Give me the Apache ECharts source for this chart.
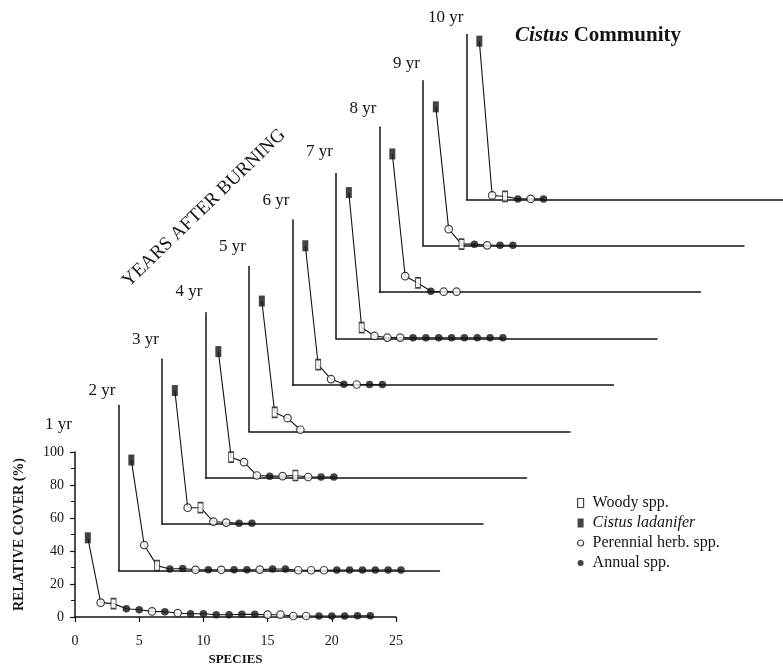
<!DOCTYPE html>
<html>
<head>
<meta charset="utf-8">
<script src="https://cdn.jsdelivr.net/npm/echarts@6/dist/echarts.min.js"></script>
<style>html,body{margin:0;padding:0;background:#fff}#chart{width:783px;height:670px}</style>
</head>
<body>
<div id="chart"></div>
<script>
// ---------- DATA ----------
// Panel labels (years after burning)
const yearLabels = ['1 yr','2 yr','3 yr','4 yr','5 yr','6 yr','7 yr','8 yr','9 yr','10 yr'];
// Type codes: C = Cistus ladanifer, W = Woody spp., P = Perennial herb. spp., A = Annual spp.
// Relative cover (%) of species in rank order (rank 1, 2, 3, ...)
const cover1yr  = [48, 8.7, 8.1, 5, 4.4, 3.4, 3.2, 2.4, 2, 2, 1.4, 1.4, 1.6, 1.6, 1.4, 1.4, 0.6, 0.6, 0.6, 0.6, 0.6, 0.8, 0.8];
const type1yr   = ['C','P','W','A','A','P','A','P','A','A','A','A','A','A','P','P','P','P','A','A','A','A','A'];
const cover2yr  = [67, 15.5, 3, 1, 1.3, 0.5, 0.5, 0.5, 0.5, 0.5, 0.6, 1, 1, 0.2, 0.2, 0.2, 0.4, 0.4, 0.4, 0.4, 0.4, 0.4];
const type2yr   = ['C','P','W','A','A','P','A','P','A','A','P','A','A','P','P','P','A','A','A','A','A','A'];
const cover3yr  = [81, 10, 10, 1.6, 1, 0.6, 0.6];
const type3yr   = ['C','P','W','P','P','A','A'];
const cover4yr  = [76.5, 12.5, 9.5, 1.4, 1, 1, 1.4, 0.5, 0.5, 0.5];
const type4yr   = ['C','W','P','P','A','P','W','P','A','A'];
const cover5yr  = [79, 11.5, 8, 1];
const type5yr   = ['C','W','P','P'];
const cover6yr  = [84.4, 12.3, 3.6, 0.5, 0.3, 0.3, 0.3];
const type6yr   = ['C','W','P','A','P','A','A'];
const cover7yr  = [88.5, 6.7, 1.6, 0.6, 0.6, 0.5, 0.5, 0.5, 0.5, 0.5, 0.5, 0.5, 0.5];
const type7yr   = ['C','W','P','P','P','A','A','A','A','A','A','A','A'];
const cover8yr  = [83.8, 9.7, 5.6, 0.6, 0.3, 0.3];
const type8yr   = ['C','P','W','A','P','P'];
const cover9yr  = [84.2, 10.1, 1, 1, 0.3, 0.3, 0.3];
const type9yr   = ['C','P','W','A','P','A','A'];
const cover10yr = [95.9, 2.4, 1.8, 0.3, 0.3, 0.3];
const type10yr  = ['C','P','W','A','P','A'];

const speciesTicksInterval = 5;   // x tick labels 0,5,...,25
const coverTicksInterval = 20;    // y tick labels 0,20,...,100
const typeNames = {W:'Woody spp.', C:'Cistus ladanifer', P:'Perennial herb. spp.', A:'Annual spp.'};
const legendOrder = ['W','C','P','A'];

const panelCover = [cover1yr,cover2yr,cover3yr,cover4yr,cover5yr,cover6yr,cover7yr,cover8yr,cover9yr,cover10yr];
const panelType  = [type1yr,type2yr,type3yr,type4yr,type5yr,type6yr,type7yr,type8yr,type9yr,type10yr];

// ---------- LAYOUT / STYLE ----------
const SERIF = '"Liberation Serif","Times New Roman",serif';
const INK = '#141414';
const X0 = 75, Y0 = 617, DX = 43.5, DY = 46.4, PW = 321, PH = 165;
const labelLift = [27, 15, 20, 21, 20, 19, 22, 19, 17, 17];

const symbolStyle = {
  W: {symbol:'rect', symbolSize:[5,10], itemStyle:{color:'#fff', borderColor:INK, borderWidth:1.2}},
  C: {symbol:'rect', symbolSize:[6,11], itemStyle:{color:INK, borderColor:INK, borderWidth:0}},
  P: {symbol:'circle', symbolSize:7.5, itemStyle:{color:'#fff', borderColor:INK, borderWidth:1.2}},
  A: {symbol:'circle', symbolSize:7.5, itemStyle:{color:INK, borderColor:INK, borderWidth:0}}
};

const grids = [], xAxes = [], yAxes = [], series = [], graphics = [];
const lineStyleAxis = {color: INK, width: 1.5};

panelCover.forEach((cov, i) => {
  const left = X0 + DX * i;
  const bottom = Y0 - DY * i;
  const top = bottom - PH;
  grids.push({left: left, top: top, width: PW, height: PH, containLabel: false, outerBoundsMode: 'none'});
  const first = i === 0;
  xAxes.push({
    gridIndex: i, type: 'value', min: 0, max: 25, interval: speciesTicksInterval,
    axisLine: {show: true, onZero: false, lineStyle: lineStyleAxis},
    axisTick: {show: first, length: 5, lineStyle: {color: INK, width: 1.2}},
    axisLabel: {show: first, margin: 17, fontSize: 14, fontFamily: SERIF, color: INK},
    splitLine: {show: false},
    name: first ? 'SPECIES' : '', nameLocation: 'middle', nameGap: 36,
    nameTextStyle: {fontFamily: SERIF, fontWeight: 'bold', fontSize: 13, color: INK}
  });
  yAxes.push({
    gridIndex: i, type: 'value', min: 0, max: 100, interval: coverTicksInterval,
    axisLine: {show: true, lineStyle: lineStyleAxis},
    axisTick: {show: first, length: 5, lineStyle: {color: INK, width: 1.2}},
    minorTick: {show: first, splitNumber: 2, length: 4, lineStyle: {color: INK, width: 1}},
    axisLabel: {show: first, margin: 11, fontSize: 14, fontFamily: SERIF, color: INK},
    splitLine: {show: false}, minorSplitLine: {show: false},
    name: first ? 'RELATIVE COVER (%)' : '', nameLocation: 'middle', nameGap: 49, nameRotate: 90,
    nameTextStyle: {fontFamily: SERIF, fontWeight: 'bold', fontSize: 14, color: INK}
  });
  const pts = cov.map((v, k) => [k + 1, v]);
  series.push({
    type: 'line', xAxisIndex: i, yAxisIndex: i, data: pts, symbol: 'none',
    lineStyle: {color: INK, width: 1.1}, silent: true, z: 2
  });
  legendOrder.forEach(t => {
    const d = pts.filter((p, k) => panelType[i][k] === t);
    if (!d.length) return;
    const s = symbolStyle[t];
    series.push({
      type: 'scatter', name: typeNames[t], xAxisIndex: i, yAxisIndex: i, data: d,
      symbol: s.symbol, symbolSize: s.symbolSize, itemStyle: s.itemStyle, z: 3, silent: true
    });
  });
  graphics.push({
    type: 'text', x: left - 3, y: top - labelLift[i],
    style: {text: yearLabels[i], fontSize: 17, fontFamily: SERIF, fill: INK, align: 'right', verticalAlign: 'middle'}
  });
});

graphics.push({
  type: 'text', x: 204, y: 208, rotation: 44 * Math.PI / 180,
  style: {text: 'YEARS AFTER BURNING', fontSize: 19, fontFamily: SERIF, fill: INK, align: 'center', verticalAlign: 'middle'}
});

const option = {
  backgroundColor: '#fff',
  animation: false,
  title: {
    text: '{i|Cistus} {b|Community}', left: 515, top: 25, padding: 0,
    textStyle: {
      rich: {
        i: {fontFamily: SERIF, fontStyle: 'italic', fontWeight: 'bold', fontSize: 21, color: INK},
        b: {fontFamily: SERIF, fontWeight: 'bold', fontSize: 21, color: INK}
      }
    }
  },
  legend: {
    orient: 'vertical', left: 577, top: 495, padding: 0,
    itemWidth: 6, itemHeight: 9, itemGap: 4, selectedMode: false,
    data: legendOrder.map(t => ({
      name: typeNames[t], icon: symbolStyle[t].symbol,
      itemStyle: symbolStyle[t].itemStyle
    })),
    formatter: n => n === typeNames.C ? '{i|' + n + '}' : '{r|' + n + '}',
    textStyle: {
      rich: {
        i: {fontFamily: SERIF, fontStyle: 'italic', fontSize: 16, color: INK, lineHeight: 16, padding: [0, 0, 0, 4]},
        r: {fontFamily: SERIF, fontSize: 16, color: INK, lineHeight: 16, padding: [0, 0, 0, 4]}
      }
    }
  },
  grid: grids, xAxis: xAxes, yAxis: yAxes, series: series,
  graphic: graphics
};

const chart = echarts.init(document.getElementById('chart'), null, {renderer: 'canvas'});
chart.setOption(option);
</script>
</body>
</html>
